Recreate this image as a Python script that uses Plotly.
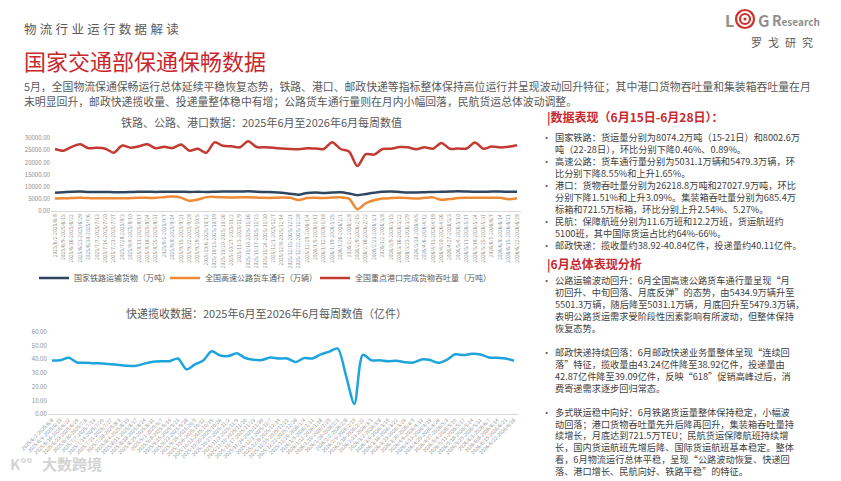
import plotly.graph_objects as go

# the page body keeps its default 8px margin, so the figure is drawn 8px in
OFF = 8
W, H = 841 - OFF, 481 - OFF
FONT = "Noto Sans CJK SC"

# weekly categories (Mon-Sun)
weeks = [
    "2025/6/2-2025/6/8", "2025/6/9-2025/6/15", "2025/6/16-2025/6/22", "2025/6/23-2025/6/29",
    "2025/6/30-2025/7/6", "2025/7/7-2025/7/13", "2025/7/14-2025/7/20", "2025/7/21-2025/7/27",
    "2025/7/28-2025/8/3", "2025/8/4-2025/8/10", "2025/8/11-2025/8/17", "2025/8/18-2025/8/24",
    "2025/8/25-2025/8/31", "2025/9/1-2025/9/7", "2025/9/8-2025/9/14", "2025/9/15-2025/9/21",
    "2025/9/22-2025/9/28", "2025/9/29-2025/10/5", "2025/10/6-2025/10/12", "2025/10/13-2025/10/19",
    "2025/10/20-2025/10/26", "2025/10/27-2025/11/2", "2025/11/3-2025/11/9", "2025/11/10-2025/11/16",
    "2025/11/17-2025/11/23", "2025/11/24-2025/11/30", "2025/12/1-2025/12/7", "2025/12/8-2025/12/14",
    "2025/12/15-2025/12/21", "2025/12/22-2025/12/28", "2025/12/29-2026/1/4", "2026/1/5-2026/1/11",
    "2026/1/12-2026/1/18", "2026/1/19-2026/1/25", "2026/1/26-2026/2/1", "2026/2/2-2026/2/8",
    "2026/2/9-2026/2/15", "2026/2/16-2026/2/22", "2026/2/23-2026/3/1", "2026/3/2-2026/3/8",
    "2026/3/9-2026/3/15", "2026/3/16-2026/3/22", "2026/3/23-2026/3/29", "2026/3/30-2026/4/5",
    "2026/4/6-2026/4/12", "2026/4/13-2026/4/19", "2026/4/20-2026/4/26", "2026/4/27-2026/5/3",
    "2026/5/4-2026/5/10", "2026/5/11-2026/5/17", "2026/5/18-2026/5/24", "2026/5/25-2026/5/31",
    "2026/6/1-2026/6/7", "2026/6/8-2026/6/14", "2026/6/15-2026/6/21", "2026/6/22-2026/6/28",
]

rail = [7600, 7800, 8000, 8100, 7900, 7900, 7900, 7800, 7800, 7900,
        8000, 8000, 7900, 8000, 8000, 8000, 7900, 8000, 7900, 8000,
        8100, 8100, 8100, 8200, 8000, 7900, 7800, 7600, 7200, 6800,
        7500, 7700, 7500, 7700, 7800, 7300, 6600, 7100, 7600, 8000,
        8100, 7900, 7700, 7700, 7800, 7900, 8000, 8100, 8200, 8100,
        8000, 8000, 8100, 8100, 8000, 8000]

highway = [5200, 5300, 5400, 5500, 5400, 5300, 5300, 5300, 5300, 5400,
           5500, 5500, 5500, 5800, 6100, 5600, 4300, 4800, 5800, 5900,
           5700, 5600, 5700, 5700, 5600, 5500, 5500, 5600, 5500, 4600,
           5400, 5500, 5400, 5600, 5700, 5200, 800, 3300, 4500, 5200,
           5400, 5500, 5400, 5200, 5500, 5700, 4700, 5000, 5400, 5500,
           5500, 5500, 5500, 5500, 4900, 5300]

port = [25500, 24800, 26400, 27400, 25800, 26000, 25600, 24000, 26900, 26000,
        26600, 27400, 25800, 26400, 25900, 27300, 24800, 25600, 24000, 28200,
        26800, 26600, 26200, 28700, 26300, 26200, 26000, 25700, 25500, 25400,
        25800, 25700, 25500, 28300, 25500, 24500, 18500, 23400, 23200, 25500,
        25600, 26300, 26200, 25400, 26200, 25600, 28000, 25600, 25700, 25700,
        28200, 25600, 26500, 26100, 26400, 27000]

express = [39.0, 39.2, 41.0, 37.6, 37.5, 37.1, 36.9, 36.4, 35.8, 35.2,
           35.3, 36.8, 38.2, 38.6, 38.6, 40.5, 32.7, 36.2, 39.0, 45.8,
           42.8, 42.3, 44.3, 40.9, 39.6, 39.4, 41.3, 40.5, 40.6, 38.0,
           40.8, 40.6, 43.5, 45.5, 47.8, 28.0, 7.5, 43.2, 39.3, 39.2,
           38.5, 38.9, 37.8, 37.6, 39.8, 39.4, 37.4, 39.6, 43.6, 43.0,
           44.0, 43.5, 41.3, 41.0, 40.6, 38.9]

top_names = ["国家铁路运输货物（万吨）", "全国高速公路货车通行（万辆）", "全国重点港口完成货物吞吐量（万吨）"]
top_colors = ["#2e4660", "#ee8a35", "#c23a30"]

intro = [
    "5月，全国物流保通保畅运行总体延续平稳恢复态势，铁路、港口、邮政快递等指标整体保持高位运行并呈现波动回升特征；其中港口货物吞吐量和集装箱吞吐量在月",
    "末明显回升，邮政快递揽收量、投递量整体稳中有增；公路货车通行量则在月内小幅回落，民航货运总体波动调整。",
]

block1 = [
    ("•", "国家铁路：货运量分别为8074.2万吨（15-21日）和8002.6万"),
    ("", "吨（22-28日），环比分别下降0.46%、0.89%。"),
    ("•", "高速公路：货车通行量分别为5031.1万辆和5479.3万辆，环"),
    ("", "比分别下降8.55%和上升1.65%。"),
    ("•", "港口：货物吞吐量分别为26218.8万吨和27027.9万吨，环比"),
    ("", "分别下降1.51%和上升3.09%。集装箱吞吐量分别为685.4万"),
    ("", "标箱和721.5万标箱，环比分别上升2.54%、5.27%。"),
    ("•", "民航：保障航班分别为11.6万班和12.2万班，货运航班约"),
    ("", "5100班，其中国际货运占比约64%-66%。"),
    ("•", "邮政快递：揽收量约38.92-40.84亿件，投递量约40.11亿件。"),
]

block2 = [
    ("•", "公路运输波动回升：6月全国高速公路货车通行量呈现“月"),
    ("", "初回升、中旬回落、月底反弹”的态势，由5434.9万辆升至"),
    ("", "5501.3万辆，随后降至5031.1万辆，月底回升至5479.3万辆，"),
    ("", "表明公路货运需求受阶段性因素影响有所波动，但整体保持"),
    ("", "恢复态势。"),
    ("", ""),
    ("•", "邮政快递持续回落：6月邮政快递业务量整体呈现“连续回"),
    ("", "落”特征，揽收量由43.24亿件降至38.92亿件，投递量由"),
    ("", "42.87亿件降至39.09亿件，反映“618”促销高峰过后，消"),
    ("", "费寄递需求逐步回归常态。"),
    ("", ""),
    ("•", "多式联运稳中向好：6月铁路货运量整体保持稳定，小幅波"),
    ("", "动回落；港口货物吞吐量先升后降再回升，集装箱吞吐量持"),
    ("", "续增长，月底达到721.5万TEU；民航货运保障航班持续增"),
    ("", "长，国内货运航班先增后降、国际货运航班基本稳定。整体"),
    ("", "看，6月物流运行总体平稳，呈现“公路波动恢复、快递回"),
    ("", "落、港口增长、民航向好、铁路平稳”的特征。"),
]


# screen pixel -> paper fraction
def px(x):
    return (x - OFF) / W


def py(y):
    return 1 - (y - OFF) / H


fig = go.Figure()

legends = ["legend", "legend2", "legend3"]
for name, vals, color, lg in zip(top_names, [rail, highway, port], top_colors, legends):
    fig.add_trace(go.Scatter(x=weeks, y=vals, mode="lines", name=name, legend=lg,
                             line=dict(color=color, width=2.5, shape="spline", smoothing=0.8),
                             xaxis="x", yaxis="y"))

fig.add_trace(go.Scatter(x=weeks, y=express, mode="lines", name="快递揽收（亿件）", showlegend=False,
                         line=dict(color="#1ea4dd", width=2.5, shape="spline", smoothing=0.8),
                         xaxis="x2", yaxis="y2"))

tick_grey = "#8c8c8c"
common_x = dict(type="category", tickmode="array", tickvals=weeks, ticktext=weeks,
                range=[-0.5, len(weeks) - 0.5], showgrid=False, zeroline=False, automargin=False,
                showline=True, linecolor="#d9d9d9", linewidth=1, ticks="",
                tickfont=dict(size=5, color=tick_grey, family=FONT))
common_y = dict(showgrid=False, zeroline=False, showline=False, ticks="", tickformat=".2f",
                automargin=False, tickfont=dict(size=6, color=tick_grey, family=FONT))

fig.update_layout(
    width=W, height=H,
    margin=dict(l=0, r=0, t=0, b=0, pad=0, autoexpand=False),
    paper_bgcolor="white", plot_bgcolor="white",
    font=dict(family=FONT, color="#404040"),
    xaxis=dict(common_x, domain=[px(50.8), px(521.2)], anchor="y", tickangle=-90),
    yaxis=dict(common_y, domain=[py(211.3), py(138)], anchor="x", range=[0, 30000],
               tickvals=[0, 5000, 10000, 15000, 20000, 25000, 30000]),
    xaxis2=dict(common_x, domain=[px(47.8), px(518.2)], anchor="y2", tickangle=-45),
    yaxis2=dict(common_y, domain=[py(414.3), py(331.7)], anchor="x2", range=[0, 60],
                tickvals=[0, 10, 20, 30, 40, 50, 60]),
)

legend_text_x = [76, 207, 357]
for lg, tx in zip(legends, legend_text_x):
    fig.update_layout({lg: dict(x=px(tx - 42), y=py(278), xanchor="left", yanchor="middle",
                                orientation="h", bgcolor="rgba(0,0,0,0)",
                                font=dict(size=8, color="#595959", family=FONT))})

ann = []


def text(x, y, s, size, color, anchor="left", bold=False):
    if bold:
        s = "<b>" + s + "</b>"
    ann.append(dict(x=px(x), y=py(y), xref="paper", yref="paper", text=s, showarrow=False,
                    xanchor=anchor, yanchor="middle", align="left",
                    font=dict(size=size, color=color, family=FONT)))


# header
text(22, 28, '<span style="letter-spacing:3.3px">物流行业运行数据解读</span>', 12.5, "#595959")
text(22, 60, "国家交通部保通保畅数据", 22, "#c8282e")
text(22, 86, intro[0], 10.85, "#595959")
text(22, 101, intro[1], 10.85, "#595959")

# logo
text(723, 20.5, "L", 16, "#8f8f8f", bold=True)
text(756, 20.5, "G", 16, "#8f8f8f", bold=True)
text(770, 20.5, 'R<span style="font-size:10px">esearch</span>', 14, "#8f8f8f", bold=True)
text(785, 42, '<span style="letter-spacing:6px">罗戈研究</span>', 11, "#595959", anchor="center")
cx, cy = 745, 19
shapes = []
for r, w in [(9, 2.2), (5, 2.2)]:
    shapes.append(dict(type="circle", xref="paper", yref="paper",
                       x0=px(cx - r), x1=px(cx + r), y0=py(cy + r), y1=py(cy - r),
                       line=dict(color="#d0302b", width=w)))
shapes.append(dict(type="circle", xref="paper", yref="paper",
                   x0=px(cx - 1.6), x1=px(cx + 1.6), y0=py(cy + 1.6), y1=py(cy - 1.6),
                   fillcolor="#d0302b", line=dict(width=0)))

# chart titles
text(262, 122, "铁路、公路、港口数据：2025年6月至2026年6月每周数值", 11, "#595959", anchor="center")
text(266, 313, "快递揽收数据：2025年6月至2026年6月每周数值（亿件）", 11, "#595959", anchor="center")

# watermark
text(8, 463, "K°°", 15, "#d4d4d4", bold=True)
text(40, 463, "大数跨境", 15, "#d4d4d4", bold=True)

# right panel, each block is one multi-line text (plotly line spacing = 1.3 em)
BODY = 9.2
step = BODY * 1.3


def block(lines, y_first):
    n = len(lines)
    yc = y_first + (n - 1) * step / 2
    bullets = "<br>".join(b if b else "&nbsp;" for b, _ in lines)
    body = "<br>".join(s if s else "&nbsp;" for _, s in lines)
    text(540, yc, bullets, BODY, "#595959")
    text(553, yc, body, BODY, "#404040")


text(545, 116.5, "|数据表现（6月15日-6月28日）：", 12, "#c8282e", bold=True)
block(block1, 137)
text(545, 263.5, "|6月总体表现分析", 12, "#c8282e", bold=True)
block(block2, 279.5)

fig.update_layout(annotations=ann, shapes=shapes)

fig.write_html("out.html")
